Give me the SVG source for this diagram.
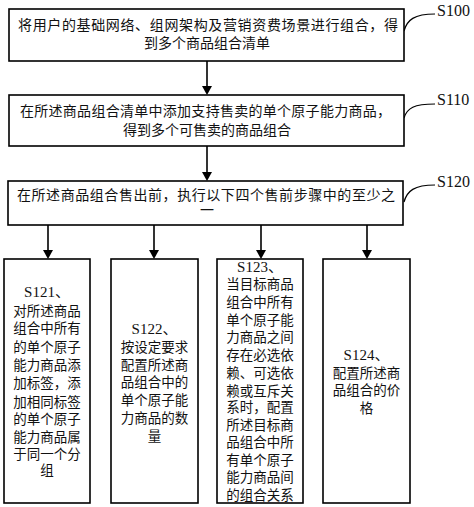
<svg xmlns="http://www.w3.org/2000/svg" width="474" height="507" viewBox="0 0 474 507">
<style>
.box{fill:#fff;stroke:#000;stroke-width:1.6}
.t{font-family:"Liberation Serif","Noto Sans CJK SC",serif;font-size:14px;fill:#111}
.s{font-family:"Liberation Serif","Noto Sans CJK SC",serif;font-size:13.5px;fill:#111;text-anchor:middle}
.sl{font-family:"Liberation Serif","Noto Sans CJK SC",serif;font-size:15px;fill:#111;text-anchor:middle}
.lab{font-family:"Liberation Serif",serif;font-size:16px;fill:#111}
.ln{stroke:#000;stroke-width:1.6;fill:none}
.cv{stroke:#000;stroke-width:1.2;fill:none}
</style>
<rect width="474" height="507" fill="#fff"/>
<g id="connectors">
<line class="ln" x1="207" y1="61" x2="207" y2="88"/>
<polygon points="207,95 202,86 212,86"/>
<line class="ln" x1="207" y1="146" x2="207" y2="174"/>
<polygon points="207,181 202,172 212,172"/>
<line class="ln" x1="48" y1="225" x2="48" y2="252"/>
<polygon points="48,259 43,250 53,250"/>
<line class="ln" x1="154" y1="225" x2="154" y2="252"/>
<polygon points="154,259 149,250 159,250"/>
<line class="ln" x1="261" y1="225" x2="261" y2="252"/>
<polygon points="261,259 256,250 266,250"/>
<line class="ln" x1="367" y1="225" x2="367" y2="252"/>
<polygon points="367,259 362,250 372,250"/>
<path class="cv" d="M404,31 C407,20 414,14 435,14"/>
<path class="cv" d="M404,118 C407,108 414,104 435,104"/>
<path class="cv" d="M404,202 C407,191 414,185 435,185"/>
</g>
<g id="S100">
<rect class="box" x="9" y="9" width="395" height="52"/>
<text class="t" x="18" y="30" textLength="380" lengthAdjust="spacing">将用户的基础网络、组网架构及营销资费场景进行组合，得</text>
<text class="t" text-anchor="middle"><tspan x="207" y="48">到多个商品组合清单</tspan></text>
<text class="lab" x="437" y="16">S100</text>
</g>
<g id="S110">
<rect class="box" x="9" y="95" width="395" height="51"/>
<text class="t" x="20" y="116" textLength="371" lengthAdjust="spacing">在所述商品组合清单中添加支持售卖的单个原子能力商品，</text>
<text class="t" text-anchor="middle"><tspan x="207" y="135">得到多个可售卖的商品组合</tspan></text>
<text class="lab" x="437" y="105">S110</text>
</g>
<g id="S120">
<rect class="box" x="8" y="181" width="395" height="44"/>
<text class="t" x="17" y="200" textLength="378" lengthAdjust="spacing">在所述商品组合售出前，执行以下四个售前步骤中的至少之</text>
<text class="t" x="200" y="215">一</text>
<text class="lab" x="437" y="187">S120</text>
</g>
<g id="S121">
<rect class="box" x="4" y="259" width="86" height="244"/>
<text class="sl" x="47" y="297">S121、</text>
<text class="s" x="47" y="316">对所述商品</text>
<text class="s" x="47" y="333">组合中所有</text>
<text class="s" x="47" y="352">的单个原子</text>
<text class="s" x="47" y="370">能力商品添</text>
<text class="s" x="47" y="388">加标签，添</text>
<text class="s" x="47" y="407">加相同标签</text>
<text class="s" x="47" y="424">的单个原子</text>
<text class="s" x="47" y="442">能力商品属</text>
<text class="s" x="47" y="459">于同一个分</text>
<text class="s" x="47" y="475">组</text>
</g>
<g id="S122">
<rect class="box" x="111" y="259" width="87" height="244"/>
<text class="sl" x="154.5" y="334">S122、</text>
<text class="s" x="154.5" y="352">按设定要求</text>
<text class="s" x="154.5" y="370">配置所述商</text>
<text class="s" x="154.5" y="387">品组合中的</text>
<text class="s" x="154.5" y="405">单个原子能</text>
<text class="s" x="154.5" y="423">力商品的数</text>
<text class="s" x="154.5" y="441">量</text>
</g>
<g id="S123">
<rect class="box" x="217" y="259" width="86" height="244"/>
<text class="sl" x="260" y="272">S123、</text>
<text class="s" x="260" y="289">当目标商品</text>
<text class="s" x="260" y="307">组合中所有</text>
<text class="s" x="260" y="325">单个原子能</text>
<text class="s" x="260" y="342">力商品之间</text>
<text class="s" x="260" y="360">存在必选依</text>
<text class="s" x="260" y="378">赖、可选依</text>
<text class="s" x="260" y="396">赖或互斥关</text>
<text class="s" x="260" y="412">系时，配置</text>
<text class="s" x="260" y="430">所述目标商</text>
<text class="s" x="260" y="447">品组合中所</text>
<text class="s" x="260" y="465">有单个原子</text>
<text class="s" x="260" y="482">能力商品间</text>
<text class="s" x="260" y="500">的组合关系</text>
</g>
<g id="S124">
<rect class="box" x="323" y="259" width="87" height="244"/>
<text class="sl" x="366.5" y="360">S124、</text>
<text class="s" x="366.5" y="378">配置所述商</text>
<text class="s" x="366.5" y="395">品组合的价</text>
<text class="s" x="366.5" y="413">格</text>
</g>
</svg>
